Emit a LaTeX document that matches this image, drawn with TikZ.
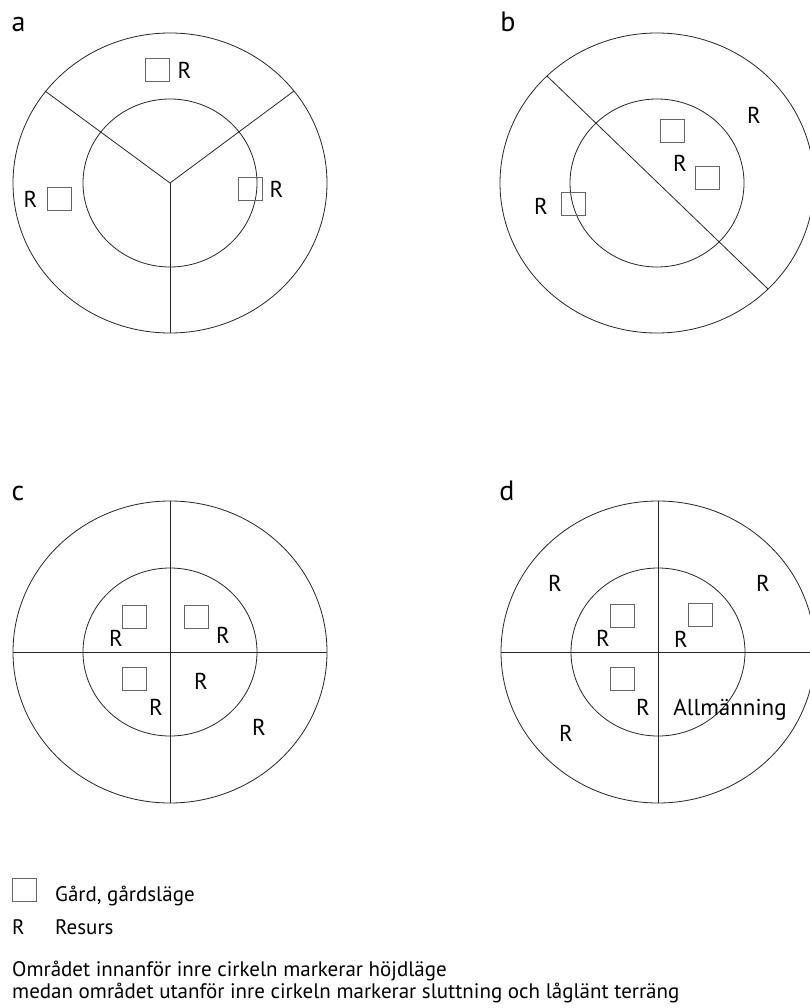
\documentclass[tikz,border=0pt]{standalone}
\usepackage{fontspec}
\setmainfont{PT Sans}
\usepackage{tikz}
\usetikzlibrary{positioning}
\tikzset{
  ring/.style={draw=black!85, line width=0.8pt},
  divline/.style={draw=black!85, line width=0.8pt},
  gard/.style={rectangle, draw=black!60, line width=0.8pt,
               minimum width=24pt, minimum height=23pt, inner sep=0pt},
  res/.style={font=\fontsize{23}{27}\selectfont, inner sep=0pt},
  panellabel/.style={font=\fontsize{28}{32}\selectfont, inner sep=0pt, anchor=base},
  legendtext/.style={font=\fontsize{21}{25}\selectfont, inner sep=0pt, anchor=base west},
}

\begin{document}
\begin{tikzpicture}[x=1pt, y=-1pt]
  % Page
  \fill[white] (0,0) rectangle (810,1008);
  \clip (0,0) rectangle (810,1008);

  % Panel a
  \coordinate (ca) at (170,183);
  \draw[ring] (ca) ellipse [x radius=157pt, y radius=150pt];
  \draw[ring] (ca) ellipse [x radius=87pt, y radius=84pt];
  \coordinate (a1) at (45,91);
  \coordinate (a2) at (294,91);
  \coordinate (a3) at (170,333);
  \draw[divline] (a1) -- (ca) -- (a2);
  \draw[divline] (ca) -- (a3);

  \node[panellabel] (labela) at (18.5,32) {a};
  \node[gard] (ga1) at (157,70) {};
  \node[res, right=8pt of ga1] (ra1) {R};
  \node[gard] (ga2) at (59,199) {};
  \node[res, left=9pt of ga2] (ra2) {R};
  \node[gard] (ga3) at (250,189) {};
  \node[res, right=7pt of ga3] (ra3) {R};

  % Panel b
  \coordinate (cb) at (657,183);
  \draw[ring] (cb) ellipse [x radius=157pt, y radius=150pt];
  \draw[ring] (cb) ellipse [x radius=87pt, y radius=84pt];
  \coordinate (b1) at (547,76);
  \coordinate (b2) at (768,289);
  \draw[divline] (b1) -- (b2);

  \node[panellabel] (labelb) at (508,32) {b};
  \node[gard] (gb1) at (672.5,130.5) {};
  \node[gard] (gb2) at (707.5,177.5) {};
  \node[gard] (gb3) at (573,204) {};
  \node[res] (rb1) at (754,115) {R};
  \node[res] (rb2) at (680,163) {R};
  \node[res] (rb3) at (541,206) {R};

  % Panel c
  \coordinate (cc) at (170,652);
  \draw[ring] (cc) ellipse [x radius=157pt, y radius=151pt];
  \draw[ring] (cc) ellipse [x radius=87pt, y radius=84pt];
  \coordinate (c1) at (170,501);
  \coordinate (c2) at (170,803);
  \coordinate (c3) at (13,652);
  \coordinate (c4) at (327,652);
  \draw[divline] (c1) -- (c2);
  \draw[divline] (c3) -- (c4);

  \node[panellabel] (labelc) at (18,500) {c};
  \node[gard] (gc1) at (134.5,616.5) {};
  \node[gard] (gc2) at (196.5,616.5) {};
  \node[gard] (gc3) at (134.5,679) {};
  \node[res] (rc1) at (116,638) {R};
  \node[res] (rc2) at (223,635) {R};
  \node[res] (rc3) at (201,681) {R};
  \node[res] (rc4) at (156,707) {R};
  \node[res] (rc5) at (259,727) {R};

  % Panel d
  \coordinate (cd) at (658,652);
  \draw[ring] (cd) ellipse [x radius=157pt, y radius=151pt];
  \draw[ring] (cd) ellipse [x radius=87pt, y radius=84pt];
  \coordinate (d1) at (658,501);
  \coordinate (d2) at (658,803);
  \coordinate (d3) at (501,652);
  \coordinate (d4) at (815,652);
  \draw[divline] (d1) -- (d2);
  \draw[divline] (d3) -- (d4);

  \node[panellabel] (labeld) at (507,500) {d};
  \node[gard] (gd1) at (622,616) {};
  \node[gard] (gd2) at (700,615) {};
  \node[gard] (gd3) at (622,679) {};
  \node[res] (rd1) at (555,583) {R};
  \node[res] (rd2) at (763,583) {R};
  \node[res] (rd3) at (603,638) {R};
  \node[res] (rd4) at (681,639) {R};
  \node[res] (rd5) at (643,707.5) {R};
  \node[res] (rd6) at (566,733.5) {R};
  \node[res, anchor=base] (allm) at (730,715) {Allmänning};

  % Legend
  \node[gard] (keygard) at (24,889.5) {};
  \node[legendtext] (keygardtext) at (55,901) {Gård, gårdsläge};
  \node[legendtext] (keyres) at (12,934) {R};
  \node[legendtext] (keyrestext) at (55,934) {Resurs};
  \node[legendtext] (note1) at (12,976) {Området innanför inre cirkeln markerar höjdläge};
  \node[legendtext] (note2) at (12,998) {medan området utanför inre cirkeln markerar sluttning och låglänt terräng};
\end{tikzpicture}
\end{document}
